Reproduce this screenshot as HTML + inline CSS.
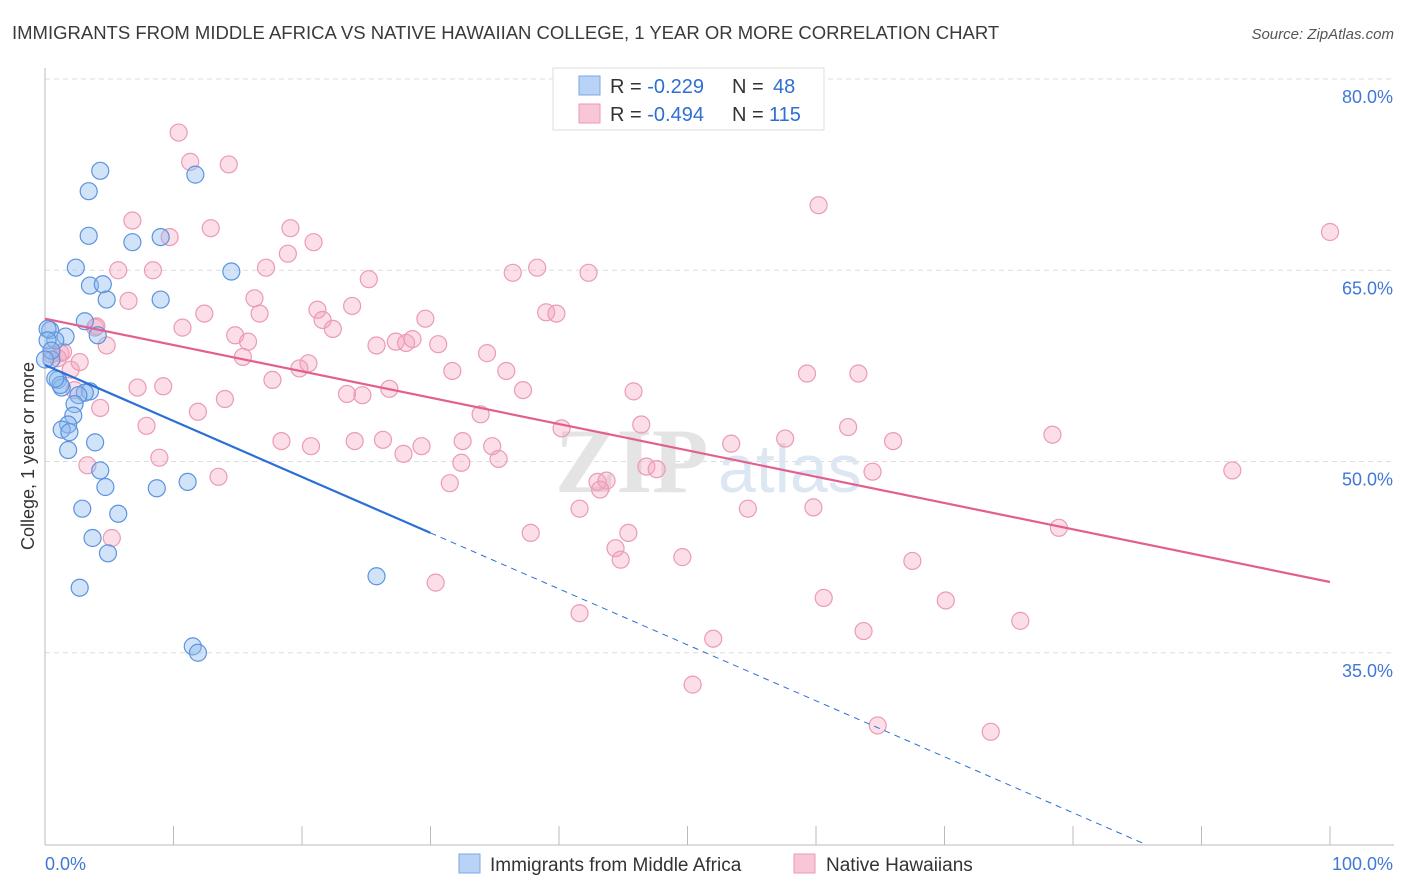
<!DOCTYPE html>
<html><head><meta charset="utf-8"><style>
body{margin:0;background:#fff;font-family:"Liberation Sans",sans-serif}
#c{position:absolute;left:0;top:0}
</style></head><body>
<svg id="c" width="1406" height="892" xmlns="http://www.w3.org/2000/svg">
<text x="12" y="39" font-size="18.5" fill="#3a3a3a">IMMIGRANTS FROM MIDDLE AFRICA VS NATIVE HAWAIIAN COLLEGE, 1 YEAR OR MORE CORRELATION CHART</text>
<text x="1394" y="39" font-size="15" fill="#555" font-style="italic" text-anchor="end">Source: ZipAtlas.com</text>
<text x="34" y="456" font-size="18" fill="#333" text-anchor="middle" transform="rotate(-90 34 456)">College, 1 year or more</text>
<g id="grid"></g>
<text x="555" y="492" font-size="92" fill="#e4e4e4" font-family="Liberation Serif" font-weight="bold">ZIP</text>
<text x="718" y="492" font-size="68" fill="#dde6f3">atlas</text>
<g id="pts"></g>
<g id="lines"></g>
<rect x="553" y="68" width="271" height="62" fill="#fff" stroke="#ddd"/>
<rect x="579" y="76" width="21" height="19" fill="#b8d3f5" stroke="#7aa7e6"/>
<rect x="579" y="104" width="21" height="19" fill="#f8c6d6" stroke="#eb9bb4"/>
<text x="610" y="93" font-size="20" fill="#333">R = <tspan fill="#2f6fd1">-0.229</tspan><tspan x="732">N = </tspan><tspan fill="#2f6fd1" x="773">48</tspan></text>
<text x="610" y="121" font-size="20" fill="#333">R = <tspan fill="#2f6fd1">-0.494</tspan><tspan x="732">N = </tspan><tspan fill="#2f6fd1" x="769">115</tspan></text>
<rect x="459" y="854" width="21" height="19" fill="#b8d3f5" stroke="#7aa7e6"/>
<text x="490" y="871" font-size="19" fill="#333">Immigrants from Middle Africa</text>
<rect x="794" y="854" width="21" height="19" fill="#f8c6d6" stroke="#eb9bb4"/>
<text x="826" y="871" font-size="19" fill="#333">Native Hawaiians</text>
</svg>
<script>
const yTicks=[80,65,50,35];
const xTickLabels=["0.0%","100.0%"];
const bX=[4.3,3.4,11.7,3.4,6.8,9,2.4,14.5,3.5,4.5,4.8,9,3.1,4.1,1.6,0.4,0.8,0.5,1,1.3,3.5,3.1,2.6,2.3,2.2,1.8,1.3,1.9,3.9,1.8,4.3,4.7,8.7,11.1,5.7,2.9,3.7,4.9,2.7,25.8,11.5,11.9,0.2,0.2,0.5,1.2,0,0.8];
const bY=[72.8,71.2,72.5,67.7,67.2,67.6,65.2,64.9,63.8,63.9,62.7,62.7,61,59.9,59.8,60.3,59.5,58,56.4,55.8,55.5,55.4,55.2,54.5,53.6,52.9,52.5,52.3,51.5,50.9,49.3,48,47.9,48.4,45.9,46.3,44,42.8,40.1,41,35.5,35,60.4,59.5,58.7,56,58,56.5];
const pX=[10.4,11.3,14.3,6.8,9.7,12.9,19.1,20.9,18.9,5.7,8.4,17.2,25.2,36.4,38.3,42.3,60.2,100,16.3,12.4,16.7,21.2,23.9,21.6,22.4,10.7,3.9,14.8,29.6,39,39.8,4.8,15.8,15.4,25.8,27.3,28.1,28.6,30.6,34.4,19.8,20.5,17.7,31.7,35.9,7.2,9.2,14,23.5,24.7,26.8,37.2,45.8,59.3,63.3,4.3,11.9,7.9,33.9,40.2,46.4,62.5,66,78.4,18.4,20.7,24.1,26.3,29.3,32.5,34.8,27.9,8.9,35.3,32.4,46.8,47.6,53.4,57.6,64.4,92.4,13.5,31.5,43,43.7,43.2,41.6,54.7,59.8,5.2,37.8,45.4,44.4,44.8,49.6,78.9,67.5,30.4,60.6,70.1,41.6,75.9,63.7,52,50.4,64.8,73.6,1.2,2,2.7,1,6.5,3.3,2.3,0.5,1.4,4];
const pY=[75.8,73.5,73.3,68.9,67.6,68.3,68.3,67.2,66.3,65,65,65.2,64.3,64.8,65.2,64.8,70.1,68,62.8,61.6,61.6,61.9,62.2,61.1,60.4,60.5,60.5,59.9,61.2,61.7,61.6,59.1,59.4,58.2,59.1,59.4,59.3,59.6,59.2,58.5,57.3,57.7,56.4,57.1,57.1,55.8,55.9,54.9,55.3,55.2,55.7,55.6,55.5,56.9,56.9,54.2,53.9,52.8,53.7,52.6,52.9,52.7,51.6,52.1,51.6,51.2,51.6,51.7,51.2,51.6,51.2,50.6,50.3,50.2,49.9,49.6,49.4,51.4,51.8,49.2,49.3,48.8,48.3,48.4,48.5,47.8,46.3,46.3,46.4,44,44.4,44.4,43.2,42.3,42.5,44.8,42.2,40.5,39.3,39.1,38.1,37.5,36.7,36.1,32.5,29.3,28.8,58.5,57.2,57.8,58.1,62.6,49.7,55.6,58.4,58.6,60.6];
const pinkLine=[61.2,40.55];
const blueLine=[57.57,44.4,30,85.6];
const NS="http://www.w3.org/2000/svg";
const X=v=>45+v*12.85, Y=v=>79+(80-v)*12.75;
function mk(t,a,p){const e=document.createElementNS(NS,t);for(const k in a)e.setAttribute(k,a[k]);p.appendChild(e);return e;}
const g=document.getElementById('grid');
yTicks.forEach(t=>{
 const l=mk('line',{x1:45,x2:1394,y1:Y(t),y2:Y(t),stroke:'#ddd','stroke-dasharray':'5,4'},g);
 
 
 const tx=mk('text',{x:1393,y:Y(t)+24,'font-size':18,fill:'#3f78d6','text-anchor':'end'},g);
 tx.textContent=t.toFixed(1)+'%';
 
 
});
const ax=mk('line',{x1:45,x2:45,y1:68,y2:845,stroke:'#bbb'},g);


const bx=mk('line',{x1:45,x2:1394,y1:845,y2:845,stroke:'#bbb'},g);


for(let i=0;i<=10;i++){
 const t=mk('line',{x1:X(i*10),x2:X(i*10),y1:826,y2:845,stroke:'#bbb'},g);
 
 
}
xTickLabels.forEach((s,i)=>{
 const t=mk('text',{x:i?1393:45,y:870,'font-size':18,fill:'#3f78d6','text-anchor':i?'end':'start'},g);
 t.textContent=s;
 
 
});
const P=document.getElementById('pts');
pX.forEach((v,i)=>{
 const c=mk('circle',{cx:X(v),cy:Y(pY[i]),r:8.5,fill:'rgba(244,160,188,0.35)',stroke:'#eb9bb4','stroke-width':1.2},P);
 
 
});
bX.forEach((v,i)=>{
 const c=mk('circle',{cx:X(v),cy:Y(bY[i]),r:8.5,fill:'rgba(140,184,238,0.4)',stroke:'#5b93e0','stroke-width':1.2},P);
 
 
});
const L=document.getElementById('lines');
const pl=mk('line',{x1:X(0),y1:Y(pinkLine[0]),x2:X(100),y2:Y(pinkLine[1]),stroke:'#e2608e','stroke-width':2.2},L);


const sl=(blueLine[1]-blueLine[0])/blueLine[2];
const b1=mk('line',{x1:X(0),y1:Y(blueLine[0]),x2:X(blueLine[2]),y2:Y(blueLine[1]),stroke:'#2b6fd6','stroke-width':2.2},L);


const b2=mk('line',{x1:X(blueLine[2]),y1:Y(blueLine[1]),x2:X(blueLine[3]),y2:Y(blueLine[0]+sl*blueLine[3]),stroke:'#2b6fd6','stroke-width':1,'stroke-dasharray':'6,5'},L);


</script>
</body></html>
